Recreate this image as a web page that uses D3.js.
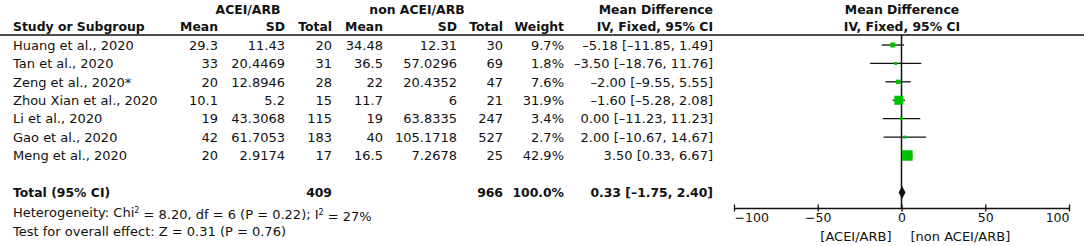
<!DOCTYPE html>
<html><head><meta charset="utf-8">
<script src="https://cdn.jsdelivr.net/npm/d3@7"></script>
<style>
body{margin:0;background:#fff;}
svg text{font-family:"DejaVu Sans",sans-serif;font-size:13px;fill:#111;}
</style></head>
<body><svg id="c" width="1084" height="246"></svg>
<script>
const studies = ["Huang et al., 2020","Tan et al., 2020","Zeng et al., 2020*","Zhou Xian et al., 2020","Li et al., 2020","Gao et al., 2020","Meng et al., 2020"];
const meanA = ["29.3","33","20","10.1","19","42","20"];
const sdA = ["11.43","20.4469","12.8946","5.2","43.3068","61.7053","2.9174"];
const totalA = ["20","31","28","15","115","183","17"];
const meanB = ["34.48","36.5","22","11.7","19","40","16.5"];
const sdB = ["12.31","57.0296","20.4352","6","63.8335","105.1718","7.2678"];
const totalB = ["30","69","47","21","247","527","25"];
const weight = [9.7,1.8,7.6,31.9,3.4,2.7,42.9];
const md = [-5.18,-3.50,-2.00,-1.60,0.00,2.00,3.50];
const lo = [-11.85,-18.76,-9.55,-5.28,-11.23,-10.67,0.33];
const hi = [1.49,11.76,5.55,2.08,11.23,14.67,6.67];
const total = {label:"Total (95% CI)", nA:"409", nB:"966", weight:"100.0%", md:0.33, lo:-1.75, hi:2.40};
const ticks = [-100,-50,0,50,100];
const axisLabels = ["[ACEI/ARB]","[non ACEI/ARB]"];

const svg = d3.select("#c");
const fmt = v => d3.format(".2f")(v).replace("−","–").replace("-","–");
const ci = (m,l,h) => `${fmt(m)} [${fmt(l)}, ${fmt(h)}]`;

const x = d3.scaleLinear().domain([-100,100]).range([734,1069]);
const y = d3.scalePoint().domain(d3.range(studies.length)).range([45,155.5]);
const yTotal = 192.5, axisY = 208.5;

function t(xp, yp, s, anchor, bold){
  return svg.append("text").attr("x",xp).attr("y",yp).attr("dy","0.36em")
    .attr("text-anchor",anchor||"start")
    .style("font-weight",bold?"bold":"normal").style("font-size",bold?"12.4px":null).text(s);
}
t(248,10,"ACEI/ARB","middle",true);
t(417,10,"non ACEI/ARB","middle",true);
t(713,10,"Mean Difference","end",true);
t(902,10,"Mean Difference","middle",true);
t(13,27,"Study or Subgroup","start",true);
const cols = [218,285,332,383,457,503,564,713];
["Mean","SD","Total","Mean","SD","Total","Weight","IV, Fixed, 95% CI"].forEach((s,i)=>t(cols[i],27,s,"end",true));
t(902,27,"IV, Fixed, 95% CI","middle",true);
svg.append("line").attr("x1",0).attr("x2",1084).attr("y1",35).attr("y2",35).attr("stroke","#111").attr("stroke-width",1.5);

studies.forEach((s,i)=>{
  const yy = y(i);
  t(13,yy,s);
  [meanA[i],sdA[i],totalA[i],meanB[i],sdB[i],totalB[i],weight[i].toFixed(1)+"%",ci(md[i],lo[i],hi[i])]
    .forEach((v,j)=>t(cols[j],yy,v,"end"));
});

t(13,yTotal,total.label,"start",true);
t(cols[2],yTotal,total.nA,"end",true);
t(cols[5],yTotal,total.nB,"end",true);
t(cols[6],yTotal,total.weight,"end",true);
t(cols[7],yTotal,ci(total.md,total.lo,total.hi),"end",true);
const het = svg.append("text").attr("x",13).attr("y",212).attr("dy","0.36em");
het.append("tspan").text("Heterogeneity: Chi");
het.append("tspan").attr("dy","-0.45em").style("font-size","8px").text("2");
het.append("tspan").attr("dy","0.45em").text(" = 8.20, df = 6 (P = 0.22); I");
het.append("tspan").attr("dy","-0.45em").style("font-size","8px").text("2");
het.append("tspan").attr("dy","0.45em").text(" = 27%");
t(13,231,"Test for overall effect: Z = 0.31 (P = 0.76)");

svg.append("line").attr("x1",x(0)).attr("x2",x(0)).attr("y1",35).attr("y2",axisY).attr("stroke","#111").attr("stroke-width",1.5);
studies.forEach((s,i)=>{
  const yy = y(i);
  svg.append("line").attr("x1",x(lo[i])).attr("x2",x(hi[i])).attr("y1",yy).attr("y2",yy).attr("stroke","#111").attr("stroke-width",1.3);
  const sz = Math.max(3, 10.5*Math.sqrt(weight[i]/42.9));
  svg.append("rect").attr("x",x(md[i])-sz/2).attr("y",yy-sz/2).attr("width",sz).attr("height",sz).attr("fill","#00c000");
});
svg.append("path").attr("d",`M${x(total.lo)},${yTotal}L${x(total.md)},${yTotal-6.5}L${x(total.hi)},${yTotal}L${x(total.md)},${yTotal+6.5}Z`).attr("fill","#111");

const ax = svg.append("g").attr("transform",`translate(0,${axisY})`)
  .call(d3.axisBottom(x).tickValues(ticks).tickSize(4).tickFormat(d=>String(d).replace("-","−")));
ax.select(".domain").attr("stroke","#111").attr("stroke-width",1.3).attr("d",`M${x(-100)},0H${x(100)}`);
ax.selectAll(".tick line").attr("stroke","#111").attr("stroke-width",1.3).attr("y1",-4).attr("y2",3);
ax.selectAll(".tick text").attr("y",5).style("font-family","DejaVu Sans").style("font-size","12.5px").attr("fill","#111")
  .attr("text-anchor",d=>d===ticks[0]?"start":d===ticks[ticks.length-1]?"end":"middle");
t(x(0)-10,236.5,axisLabels[0],"end");
t(x(0)+9,236.5,axisLabels[1],"start");
</script></body></html>
